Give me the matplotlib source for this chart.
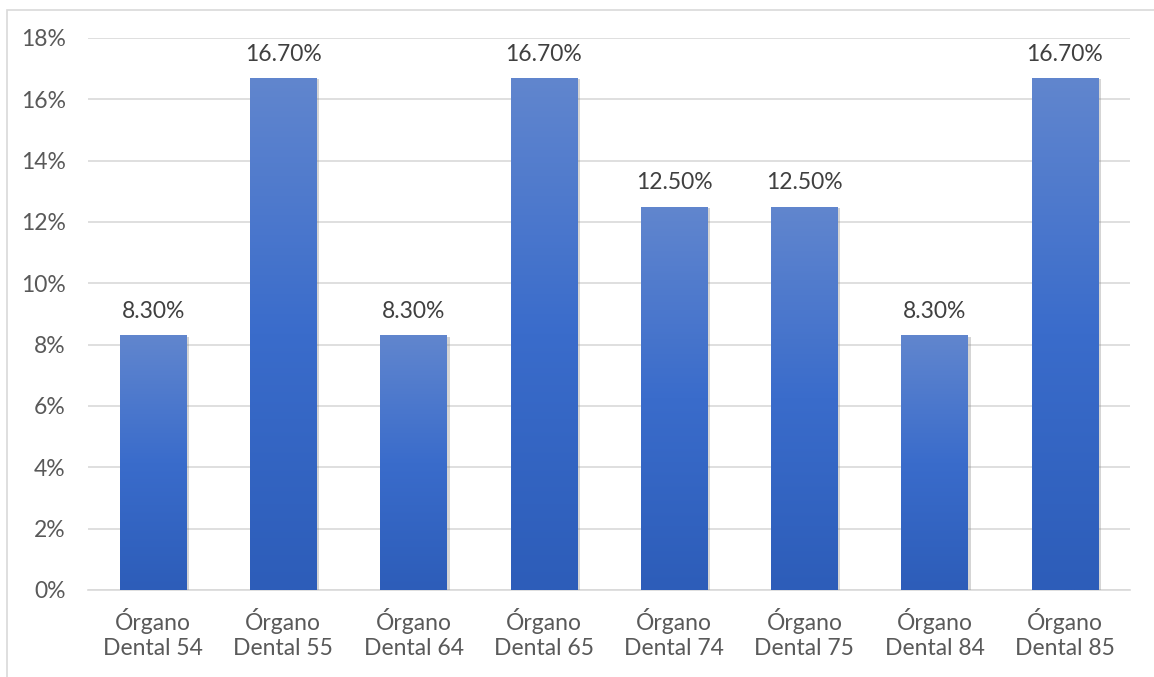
import matplotlib.pyplot as plt
import numpy as np
from matplotlib.patches import Rectangle
from matplotlib.colors import LinearSegmentedColormap
import matplotlib.patheffects as pe

categories = ["Órgano\nDental 54", "Órgano\nDental 55", "Órgano\nDental 64", "Órgano\nDental 65",
              "Órgano\nDental 74", "Órgano\nDental 75", "Órgano\nDental 84", "Órgano\nDental 85"]
values = [8.3, 16.7, 8.3, 16.7, 12.5, 12.5, 8.3, 16.7]
labels = ["8.30%", "16.70%", "8.30%", "16.70%", "12.50%", "12.50%", "8.30%", "16.70%"]
yticks = [0, 2, 4, 6, 8, 10, 12, 14, 16, 18]

plt.rcParams['font.family'] = ['Lato', 'DejaVu Sans']
fig = plt.figure(figsize=(11.54, 6.77), dpi=100)
ax = fig.add_axes([88/1154, 1-590/677, (1130-88)/1154, (590-38)/677])

# chart border
fig.add_artist(Rectangle((7/1154, -0.1), 1.2, 1-10/677+0.1, transform=fig.transFigure,
                         fill=False, edgecolor='#D9D9D9', lw=1.2))

x = np.arange(len(values))
bars = ax.bar(x, values, width=0.51, color='#4472C4', zorder=3)
grad = np.linspace(0, 1, 256).reshape(-1, 1)
cmap = LinearSegmentedColormap.from_list('g', ['#2D5DB9', '#3A6CCB', '#6186CE'])
for b in bars:
    b.set_path_effects([pe.SimplePatchShadow(offset=(2, -1), shadow_rgbFace='#888888', alpha=0.35), pe.Normal()])
    im = ax.imshow(grad, cmap=cmap, aspect='auto', origin='lower',
                   extent=(b.get_x(), b.get_x()+b.get_width(), 0, b.get_height()), zorder=4)
    im.set_clip_path(b)

for xi, v, lab in zip(x, values, labels):
    ax.annotate(lab, (xi, v), xytext=(0, 9.5), textcoords='offset points', ha='center', va='bottom',
                fontsize=16.5, color='#404040')

ax.set_xlim(-0.5, 7.5)
ax.set_ylim(0, 18)
ax.set_yticks(yticks)
ax.set_yticklabels([f"{t}%" for t in yticks])
ax.set_xticks(x)
ax.set_xticklabels(categories, linespacing=1.25)
ax.tick_params(length=0, labelsize=16.5, colors='#595959')
ax.tick_params(axis='x', pad=13)
ax.tick_params(axis='y', pad=16)
ax.grid(axis='y', color='#D9D9D9', lw=1.2, zorder=0)
for s in ['top', 'right', 'left']:
    ax.spines[s].set_visible(False)
ax.spines['bottom'].set_color('#D9D9D9')
ax.spines['bottom'].set_linewidth(1.2)

fig.savefig('out.png', dpi=100)
